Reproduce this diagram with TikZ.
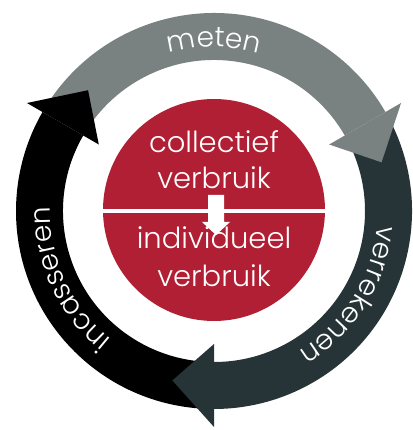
\documentclass[tikz,border=0pt]{standalone}
\usepackage{fontspec}
\setmainfont{Poppins Light}
\usetikzlibrary{decorations.text}
\definecolor{metengray}{RGB}{122,129,129}
\definecolor{rekendark}{RGB}{38,52,56}
\definecolor{usagered}{RGB}{177,31,53}
\newcommand{\ringfont}{\fontsize{28}{28}\selectfont\color{white}}

\tikzset{
    usage/.style={circle, fill=usagered, minimum size=222pt, inner sep=0pt},
    usagetext/.style={anchor=base, text=white, font=\fontsize{29}{29}\selectfont},
    ringlabel/.style={decorate, decoration={text along path, text align=center, text={|\ringfont|#1}}}
}

\begin{document}
\begin{tikzpicture}[x=1pt, y=1pt]
            \useasboundingbox (-214,-219) rectangle (198,211);

            %Ring
            \foreach \col/\from/\base in {metengray/147.5/30, rekendark/27.5/-90, black/267.5/150}
                \fill[\col] (\from:198pt) arc[start angle=\from, end angle=\base, radius=198pt]
                    -- (\base:151pt) arc[start angle=\base, end angle=\from, radius=151pt] -- cycle;
            \foreach \col/\base in {metengray/30, rekendark/-90, black/150}
                \fill[\col] (\base:216pt) -- ({\base-13.8}:174.5pt) -- (\base:133pt) -- cycle;

            %Labels
            \path[ringlabel=meten] (180:164pt) arc[start angle=180, end angle=0, radius=164pt];
            \path[ringlabel=verrekenen] (58:164pt) arc[start angle=58, end angle=-122, radius=164pt];
            \path[ringlabel=incasseren] (295:164pt) arc[start angle=295, end angle=115, radius=164pt];

            %Nodes
            \node[usage] at (0,1) (U) {};
            \node[usagetext] at (0,58) (C1) {collectief};
            \node[usagetext] at (0,22) (C2) {verbruik};
            \node[usagetext] at (0,-38) (I1) {individueel};
            \node[usagetext] at (0,-76) (I2) {verbruik};

            %Split
            \begin{scope}
                \clip (U.center) circle (111pt);
                \fill[white] (-112,-2) rectangle (112,1.5);
            \end{scope}
            \fill[white] (-6,16) -- (10,16) -- (10,-11) -- (16,-11) -- (2,-24) -- (-12,-11) -- (-6,-11) -- cycle;
        \end{tikzpicture}
\end{document}
